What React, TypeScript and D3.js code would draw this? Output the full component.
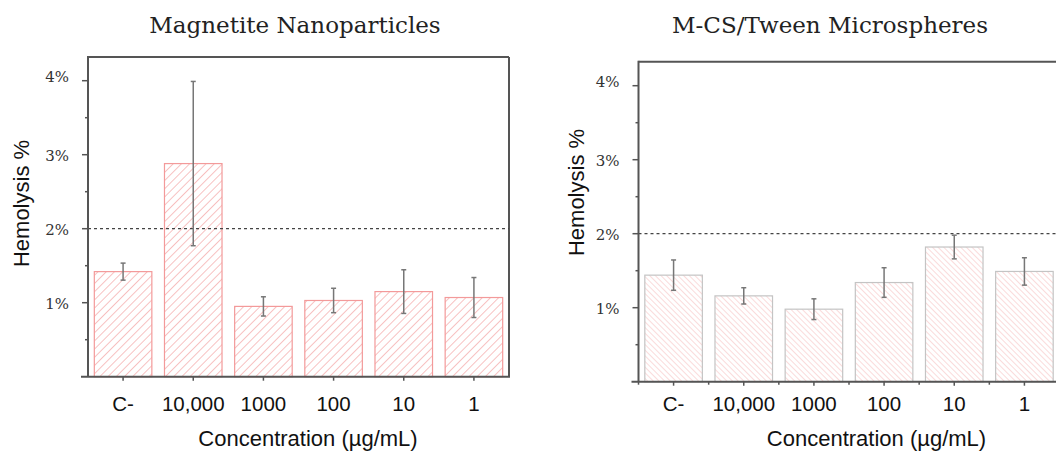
import React from "react";
import * as d3 from "d3";

const categories = ["C-", "10,000", "1000", "100", "10", "1"];
const magnetiteMeans = [1.42, 2.88, 0.95, 1.03, 1.15, 1.07];
const magnetiteErrors = [0.115, 1.11, 0.13, 0.165, 0.295, 0.27];
const microMeans = [1.44, 1.16, 0.98, 1.34, 1.82, 1.49];
const microErrors = [0.205, 0.11, 0.14, 0.2, 0.16, 0.185];
const yTicks = [1, 2, 3, 4];
const yMinorTicks = [0.5, 1.5, 2.5, 3.5];
const threshold = 2;

const W = 1056;
const H = 452;

type PanelProps = {
  title: string;
  means: number[];
  errors: number[];
  x0: number;
  zeroY: number;
  topY: number;
  titleX: number;
  ylabX: number;
  ylabY: number;
  xlabX: number;
  pattern: string;
  barStroke: string;
  rightFrame: boolean;
  minorX: boolean;
};

function Panel(p: PanelProps) {
  const plotW = 421;
  const x = d3.scaleBand<string>().domain(categories).range([p.x0, p.x0 + plotW]).paddingInner(0.18).paddingOuter(0.09);
  const y = d3.scaleLinear().domain([0, 1]).range([p.zeroY, p.zeroY - 74]);
  const x1 = p.x0 + plotW;
  const axisCol = "#555";
  const step = x.step();
  return (
    <g>
      <text x={p.titleX} y={33} textAnchor="middle" fontFamily="'DejaVu Serif', serif" fontSize={23} fill="#222">{p.title}</text>
      {/* frame */}
      <line x1={p.x0} x2={p.rightFrame ? x1 : W + 10} y1={p.topY} y2={p.topY} stroke={axisCol} strokeWidth={2} />
      {p.rightFrame && <line x1={x1} x2={x1} y1={p.topY} y2={p.zeroY} stroke={axisCol} strokeWidth={2} />}
      {/* bars */}
      {categories.map((c, i) => (
        <rect key={c} x={x(c)} y={y(p.means[i])} width={x.bandwidth()} height={p.zeroY - y(p.means[i])} fill={`url(#${p.pattern})`} stroke={p.barStroke} strokeWidth={1.2} />
      ))}
      {/* threshold */}
      <line x1={p.x0} x2={p.rightFrame ? x1 : W + 10} y1={y(threshold)} y2={y(threshold)} stroke="#444" strokeWidth={1.2} strokeDasharray="3,3" />
      {/* error bars */}
      {categories.map((c, i) => {
        const cx = (x(c) as number) + x.bandwidth() / 2;
        const t = y(p.means[i] + p.errors[i]);
        const b = y(p.means[i] - p.errors[i]);
        return (
          <g key={c} stroke="#777" strokeWidth={1.5}>
            <line x1={cx} x2={cx} y1={t} y2={b} />
            <line x1={cx - 2.5} x2={cx + 2.5} y1={t} y2={t} />
            <line x1={cx - 2.5} x2={cx + 2.5} y1={b} y2={b} />
          </g>
        );
      })}
      {/* axes */}
      <line x1={p.x0} x2={p.x0} y1={p.topY - 1} y2={p.zeroY} stroke={axisCol} strokeWidth={2} />
      <line x1={p.x0 - 7} x2={p.rightFrame ? x1 + 1 : W + 10} y1={p.zeroY} y2={p.zeroY} stroke={axisCol} strokeWidth={2} />
      {yTicks.map((t) => (
        <g key={t}>
          <line x1={p.x0 - 6} x2={p.x0} y1={y(t)} y2={y(t)} stroke={axisCol} strokeWidth={1.5} />
          <text x={p.x0 - 19} y={y(t) + (t === 4 ? -3 : 2)} textAnchor="end" dominantBaseline="middle" fontFamily="'DejaVu Serif', serif" fontSize={15} fill="#333">{t}%</text>
        </g>
      ))}
      {yMinorTicks.map((t) => (
        <line key={t} x1={p.x0 - 3} x2={p.x0} y1={y(t)} y2={y(t)} stroke={axisCol} strokeWidth={1.5} />
      ))}
      {categories.map((c) => {
        const cx = (x(c) as number) + x.bandwidth() / 2;
        return (
          <g key={c}>
            <line x1={cx} x2={cx} y1={p.zeroY} y2={p.zeroY + 4} stroke={axisCol} strokeWidth={1.5} />
            <text x={cx} y={411} textAnchor="middle" fontFamily="'Liberation Sans', Arial, sans-serif" fontSize={20.5} fill="#111">{c}</text>
          </g>
        );
      })}
      {p.minorX && categories.map((c) => (
        <line key={"m" + c} x1={(x(c) as number) - (step - x.bandwidth()) / 2} x2={(x(c) as number) - (step - x.bandwidth()) / 2} y1={p.zeroY} y2={p.zeroY + 3} stroke={axisCol} strokeWidth={1.5} />
      ))}
      <text x={p.xlabX} y={446} textAnchor="middle" fontFamily="'Liberation Sans', Arial, sans-serif" fontSize={22} fill="#111">Concentration (µg/mL)</text>
      <text transform={`translate(${p.ylabX},${p.ylabY}) rotate(-90)`} textAnchor="middle" fontFamily="'Liberation Sans', Arial, sans-serif" fontSize={22} fill="#111">Hemolysis %</text>
    </g>
  );
}

export default function App() {
  return (
    <svg width={W} height={H} style={{ position: "absolute", left: 0, top: 0, background: "#fff" }}>
      <defs>
        <pattern id="hatchL" patternUnits="userSpaceOnUse" width={5.8} height={10} patternTransform="rotate(45)">
          <rect width={5.8} height={10} fill="#fff" />
          <line x1={0} y1={0} x2={0} y2={10} stroke="#f4a2a2" strokeWidth={1.3} />
        </pattern>
        <pattern id="hatchR" patternUnits="userSpaceOnUse" width={4} height={10} patternTransform="rotate(-45)">
          <rect width={4} height={10} fill="#fff" />
          <line x1={0} y1={0} x2={0} y2={10} stroke="#f7c3c3" strokeWidth={1.2} />
        </pattern>
      </defs>
      <rect width={W} height={H} fill="#fff" />
      <Panel title="Magnetite Nanoparticles" means={magnetiteMeans} errors={magnetiteErrors} x0={88} zeroY={376.7} topY={57} titleX={295} ylabX={29} ylabY={203.5} xlabX={308} pattern="hatchL" barStroke="#f39a9a" rightFrame={true} minorX={false} />
      <Panel title="M-CS/Tween Microspheres" means={microMeans} errors={microErrors} x0={638.5} zeroY={381.7} topY={61.7} titleX={830} ylabX={584} ylabY={192.5} xlabX={876.5} pattern="hatchR" barStroke="#c4c4c4" rightFrame={false} minorX={true} />
    </svg>
  );
}
